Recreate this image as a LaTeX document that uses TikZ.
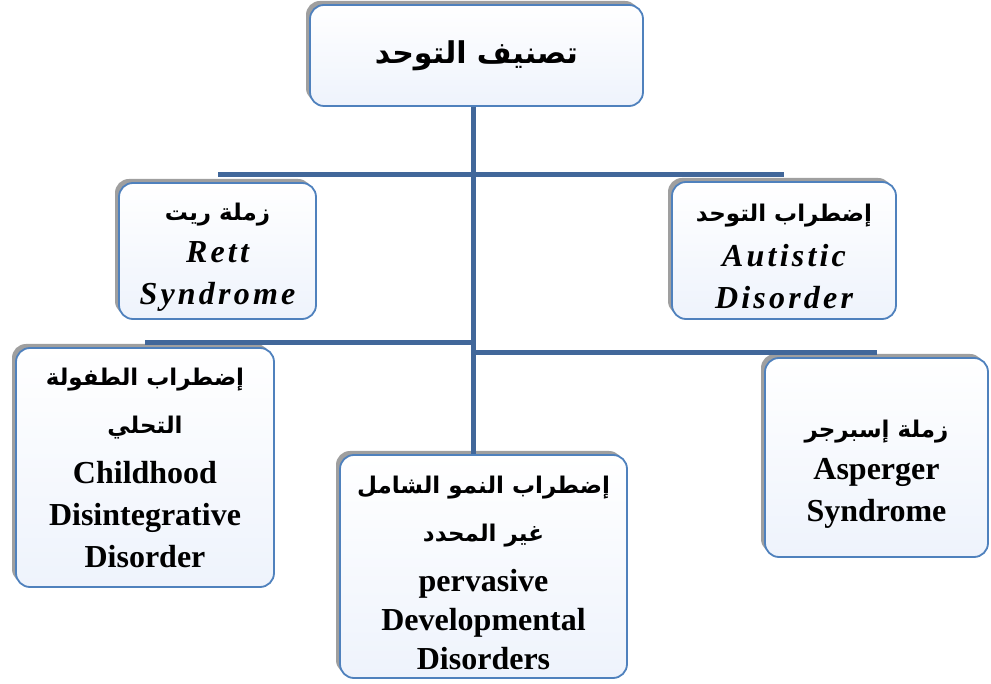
\documentclass[tikz,border=0pt]{standalone}
\usepackage{fontspec}
\setmainfont{Liberation Serif}
\newfontfamily\arabicfont[Script=Arabic]{DejaVu Sans}
\newfontfamily\spacedfont[LetterSpace=10]{Liberation Serif}
\TeXXeTstate=1
\usetikzlibrary{shadows}
\definecolor{branchblue}{HTML}{41679A}
\definecolor{boxborder}{HTML}{4F81BD}
\definecolor{boxfill}{HTML}{EEF3FC}
\newcommand{\arabictext}[2][23]{{\arabicfont\bfseries\fontsize{#1}{42}\selectfont\beginR #2\endR}}
\newcommand{\spaced}[1]{{\spacedfont\fontsize{32}{40}\selectfont\itshape #1}}
\tikzset{
  catbox/.style={draw=boxborder, line width=1.8pt, rounded corners=14pt,
    top color=white, bottom color=boxfill,
    general shadow={fill=gray!75, shadow xshift=-4pt, shadow yshift=4pt},
    align=center, inner sep=0pt, font=\fontsize{32}{42}\selectfont\bfseries},
  branch/.style={draw=branchblue, line width=5pt},
}
\begin{document}
\begin{tikzpicture}[x=1pt,y=-1pt]
\useasboundingbox (0,0) rectangle (991,684);
\node[catbox, minimum width=333pt, minimum height=101pt] (top) at (476.5,55.5) {\arabictext[30]{تصنيف التوحد}};
\node[catbox, minimum width=197pt, minimum height=136pt] (rett) at (217.5,251) {\rule{0pt}{30pt}\arabictext{زملة ريت}\\ \spaced{Rett}\\ \spaced{Syndrome}};
\node[catbox, minimum width=224pt, minimum height=137pt] (aut) at (784,250.5) {\rule{0pt}{30pt}\arabictext{إضطراب التوحد}\\[3pt] \spaced{Autistic}\\ \spaced{Disorder}};
\node[catbox, minimum width=258pt, minimum height=239pt] (child) at (145,467.5) {\arabictext{إضطراب الطفولة}\\[6pt] \arabictext{التحلي}\\[8pt] Childhood\\ Disintegrative\\ Disorder};
\node[catbox, minimum width=287pt, minimum height=223pt] (pdd) at (483.5,566.5) {\rule{0pt}{30pt}\arabictext{إضطراب النمو الشامل}\\[6pt] \arabictext{غير المحدد}\\[8pt] pervasive\\[-3pt] Developmental\\[-3pt] Disorders};
\node[catbox, minimum width=223pt, minimum height=199pt] (asp) at (876.5,457.5) {\rule{0pt}{50pt}\arabictext{زملة إسبرجر}\\ Asperger\\ Syndrome};
\draw[branch] ([xshift=-3.5pt]top.south) coordinate (trunk) -- (trunk |- pdd.north);
\coordinate (j1) at (473,175);
\coordinate (j2) at (473,343);
\coordinate (j3) at (473,353);
\draw[branch] (j1) -- (j1 -| rett.north);
\draw[branch] (j1) -- (j1 -| aut.north);
\draw[branch] (j2) -- (j2 -| child.north);
\draw[branch] (j3) -- (j3 -| asp.north);
\end{tikzpicture}
\end{document}
